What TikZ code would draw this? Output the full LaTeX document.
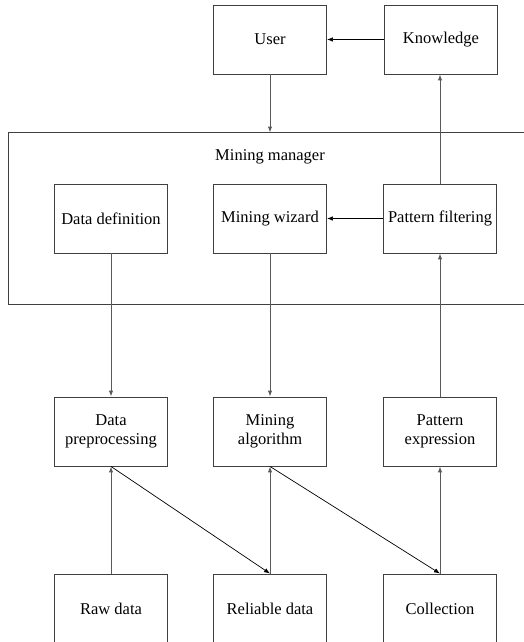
\documentclass[tikz,border=0pt]{standalone}
\usepackage{fontspec}
\setmainfont{Liberation Serif}
\usetikzlibrary{arrows.meta}
\begin{document}
\begin{tikzpicture}[x=1pt,y=-1pt,
  box/.style={draw=black!75,line width=0.9pt,minimum width=113pt,minimum height=69pt,inner sep=0pt,align=center,font=\fontsize{16.5}{19}\selectfont},
  conn/.style={draw=black!65,line width=1pt,-{Latex[length=6pt,width=4.5pt]}},
  diag/.style={draw=black,line width=0.7pt,-{Latex[length=6pt,width=4.5pt]}}]
\useasboundingbox (0,0) rectangle (524,642);
\clip (0,0) rectangle (524,642);
\node[box] (user) at (270,39.5) {\raisebox{-1.5pt}{User}};
\node[box] (know) at (441,39.5) {\raisebox{-1.5pt}{Knowledge}};
\draw[draw=black!75,line width=0.9pt] (8,132.5) rectangle (540,304);
\node[font=\fontsize{16.5}{19}\selectfont] (mm) at (270,157) {Mining manager};
\coordinate (mmtop) at (270,132.5);
\node[box] (ddef) at (111,218.5) {Data definition};
\node[box] (wiz) at (270,218.5) {Mining wizard};
\node[box] (pf) at (440,218.5) {Pattern filtering};
\node[box] (dpre) at (111,431.5) {Data\\preprocessing};
\node[box] (malg) at (270,431.5) {Mining\\algorithm};
\node[box] (pexp) at (440,431.5) {Pattern\\expression};
\node[box] (raw) at (111,608.5) {Raw data};
\node[box] (rel) at (270,608.5) {Reliable data};
\node[box] (col) at (440,608.5) {Collection};
\draw[diag] (know) -- (user);
\draw[conn] (user) -- (mmtop);
\draw[conn] (pf.north) -- (pf.north|-know.south);
\draw[diag] (pf) -- (wiz);
\draw[conn] (ddef) -- (dpre);
\draw[conn] (wiz) -- (malg);
\draw[conn] (pexp) -- (pf);
\draw[conn] (raw) -- (dpre);
\draw[conn] (rel) -- (malg);
\draw[conn] (col) -- (pexp);
\draw[diag] (dpre.south) -- (rel.north);
\draw[diag] (malg.south) -- (col.north);
\end{tikzpicture}
\end{document}
